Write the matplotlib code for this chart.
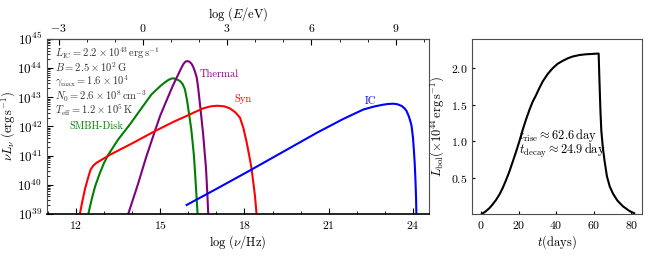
import numpy as np
import matplotlib
matplotlib.use("Agg")
import matplotlib.pyplot as plt
from matplotlib.ticker import MultipleLocator, LogLocator, NullFormatter

plt.rcParams['font.family'] = 'serif'
plt.rcParams['font.serif'] = ['cmr10']
plt.rcParams['mathtext.fontset'] = 'cm'
plt.rcParams['axes.formatter.use_mathtext'] = True
plt.rcParams['axes.unicode_minus'] = True

# log(nu/Hz), log(nu L_nu / erg s^-1)
disk_x = [12.44, 12.56, 12.68, 12.85, 13.0, 13.15, 13.5, 13.92, 14.3, 14.69, 15.0, 15.15, 15.3, 15.40, 15.46,
          15.55, 15.70, 15.80, 15.88, 15.96, 16.03, 16.10, 16.15, 16.20, 16.23, 16.28, 16.33]
disk_y = [39.0, 39.5, 39.94, 40.4, 40.75, 41.03, 41.55, 42.07, 42.58, 43.1, 43.38, 43.5, 43.6, 43.64, 43.65,
          43.63, 43.56, 43.45, 43.27, 42.87, 42.41, 41.95, 41.49, 41.0, 40.57, 39.8, 39.0]

thermal_x = [13.86, 14.2, 14.5, 14.81, 15.0, 15.23, 15.46, 15.56, 15.64, 15.70, 15.76, 15.84, 15.90, 15.96,
             16.04, 16.12, 16.18, 16.23, 16.30, 16.35, 16.43, 16.53, 16.63, 16.68, 16.71]
thermal_y = [39.0, 40.0, 40.95, 41.84, 42.37, 42.9, 43.42, 43.62, 43.78, 43.9, 44.02, 44.16, 44.22, 44.24,
             44.22, 44.14, 44.03, 43.9, 43.68, 43.33, 42.64, 41.72, 40.57, 39.65, 39.0]

syn_x = [12.14, 12.22, 12.32, 12.42, 12.52, 12.62, 12.74, 12.97, 13.21, 14.0, 14.81, 15.52, 15.94, 16.25, 16.53,
         16.8, 17.04, 17.28, 17.48, 17.68, 17.84, 17.96, 18.07, 18.17, 18.25, 18.37, 18.43]
syn_y = [39.0, 39.4, 39.85, 40.2, 40.52, 40.66, 40.76, 40.89, 41.03, 41.42, 41.84, 42.18, 42.36, 42.5, 42.62,
         42.69, 42.71, 42.69, 42.62, 42.48, 42.30, 41.95, 41.49, 41.0, 40.57, 39.65, 39.0]

ic_x = [15.94, 17.0, 18.19, 19.5, 20.57, 21.5, 22.23, 22.6, 22.9, 23.1, 23.30, 23.45, 23.60, 23.70, 23.77,
        23.85, 23.90, 23.95, 24.0, 24.03, 24.06, 24.09, 24.11, 24.12]
ic_y = [39.31, 39.86, 40.49, 41.2, 41.78, 42.25, 42.58, 42.68, 42.74, 42.77, 42.78, 42.76, 42.70, 42.62, 42.53,
        42.35, 42.2, 42.01, 41.6, 41.2, 40.75, 40.1, 39.5, 39.0]

# bolometric light curve, t in days, L in 1e44 erg/s
lc_t = [0.5, 2.5, 4.4, 6.2, 8.0, 9.8, 11.5, 13.3, 15.1, 16.9, 18.7, 20.5, 22.2, 24.0, 25.8, 27.5, 29.3, 31.1,
        32.9, 35.5, 38.2, 40.8, 43.5, 46.2, 48.9, 52.5, 56.0, 59.5, 62.6, 63.0, 63.5, 64.0, 64.8, 65.8, 67.0,
        68.5, 70.3, 72.5, 75.5, 79.0, 81.5]
lc_L = [0.005, 0.04, 0.082, 0.135, 0.196, 0.27, 0.356, 0.465, 0.584, 0.72, 0.858, 1.005, 1.155, 1.30, 1.43,
        1.54, 1.63, 1.73, 1.82, 1.92, 2.0, 2.06, 2.10, 2.135, 2.16, 2.18, 2.19, 2.195, 2.20, 1.85, 1.45, 1.15,
        0.92, 0.72, 0.52, 0.38, 0.28, 0.19, 0.11, 0.045, 0.015]

log_h_eV = -14.383  # log10(h / eV s)

fig = plt.figure(figsize=(6.53, 2.56), dpi=100)
ax = fig.add_axes([0.072, 0.164, 0.585, 0.684])
ax2 = fig.add_axes([0.723, 0.164, 0.260, 0.684])

ax.plot(disk_x, 10**np.array(disk_y), color='green', lw=1.5)
ax.plot(thermal_x, 10**np.array(thermal_y), color='purple', lw=1.5)
ax.plot(syn_x, 10**np.array(syn_y), color='red', lw=1.5)
ax.plot(ic_x, 10**np.array(ic_y), color='blue', lw=1.5)

ax.set_yscale('log')
ax.set_xlim(10.97, 24.57)
ax.set_ylim(1e39, 1e45)
ax.xaxis.set_major_locator(MultipleLocator(3))
ax.xaxis.set_minor_locator(MultipleLocator(1))
ax.yaxis.set_major_locator(LogLocator(base=10, numticks=10))
ax.yaxis.set_minor_locator(LogLocator(base=10, subs=np.arange(2, 10), numticks=10))
ax.yaxis.set_minor_formatter(NullFormatter())
ax.tick_params(which='both', direction='in', labelsize=8.5, right=False, top=False)
ax.tick_params(axis='y', labelsize=9.5)
ax.tick_params(which='major', length=4)
ax.tick_params(which='minor', length=2)
ax.set_xlabel(r'$\log\,(\nu/\mathrm{Hz})$', fontsize=9, labelpad=2)
ax.set_ylabel(r'$\nu L_\nu\ (\mathrm{erg\,s^{-1}})$', fontsize=9, labelpad=0)

top = ax.secondary_xaxis('top', functions=(lambda x: x + log_h_eV, lambda e: e - log_h_eV))
top.xaxis.set_major_locator(MultipleLocator(3))
top.xaxis.set_minor_locator(MultipleLocator(1))
top.tick_params(which='both', direction='in', labelsize=8.5)
top.tick_params(which='major', length=4)
top.tick_params(which='minor', length=2)
top.set_xlabel(r'$\log\,(E/\mathrm{eV})$', fontsize=9, labelpad=3)

ax.text(17.65, 10**42.85, 'Syn', color='red', fontsize=7.6)
ax.text(16.42, 10**43.7, 'Thermal', color='purple', fontsize=7.6)
ax.text(22.28, 10**42.78, 'IC', color='blue', fontsize=7.6)
ax.text(11.75, 10**41.9, 'SMBH-Disk', color='green', fontsize=7.4)

params = [r'$L_{\rm IC} = 2.2\times10^{43}\,\mathrm{erg\,s^{-1}}$',
          r'$B = 2.5\times10^{2}\,\mathrm{G}$',
          r'$\gamma_{\rm max} = 1.6\times10^{4}$',
          r'$N_0 = 2.6\times10^{8}\,\mathrm{cm^{-3}}$',
          r'$T_{\rm eff} = 1.2\times10^{5}\,\mathrm{K}$']
for i, s in enumerate(params):
    ax.text(0.022, 0.92 - i * 0.082, s, transform=ax.transAxes, fontsize=7.6, va='center', color='0.2')

ax2.plot(lc_t, lc_L, color='black', lw=1.5)
ax2.set_xlim(-4.7, 85.6)
ax2.set_ylim(0.004, 2.4)
ax2.xaxis.set_major_locator(MultipleLocator(20))
ax2.set_yticks([0.5, 1.0, 1.5, 2.0])
ax2.tick_params(direction='in', labelsize=8.5, length=2.5)
ax2.set_xlabel(r'$t(\mathrm{days})$', fontsize=9, labelpad=2)
ax2.set_ylabel(r'$L_{\rm bol}(\times10^{44}\,\mathrm{erg\,s^{-1}})$', fontsize=9, labelpad=3)
ax2.text(20, 1.08, r'$t_{\rm rise} \approx 62.6\,\mathrm{day}$', fontsize=9, va='center')
ax2.text(20, 0.86, r'$t_{\rm decay} \approx 24.9\,\mathrm{day}$', fontsize=9, va='center')

for a in (ax, ax2):
    for sp in a.spines.values():
        sp.set_color('0.3')
ax.spines['bottom'].set_color('black')
ax.spines['bottom'].set_linewidth(1.2)

fig.savefig('out.png', dpi=100)
